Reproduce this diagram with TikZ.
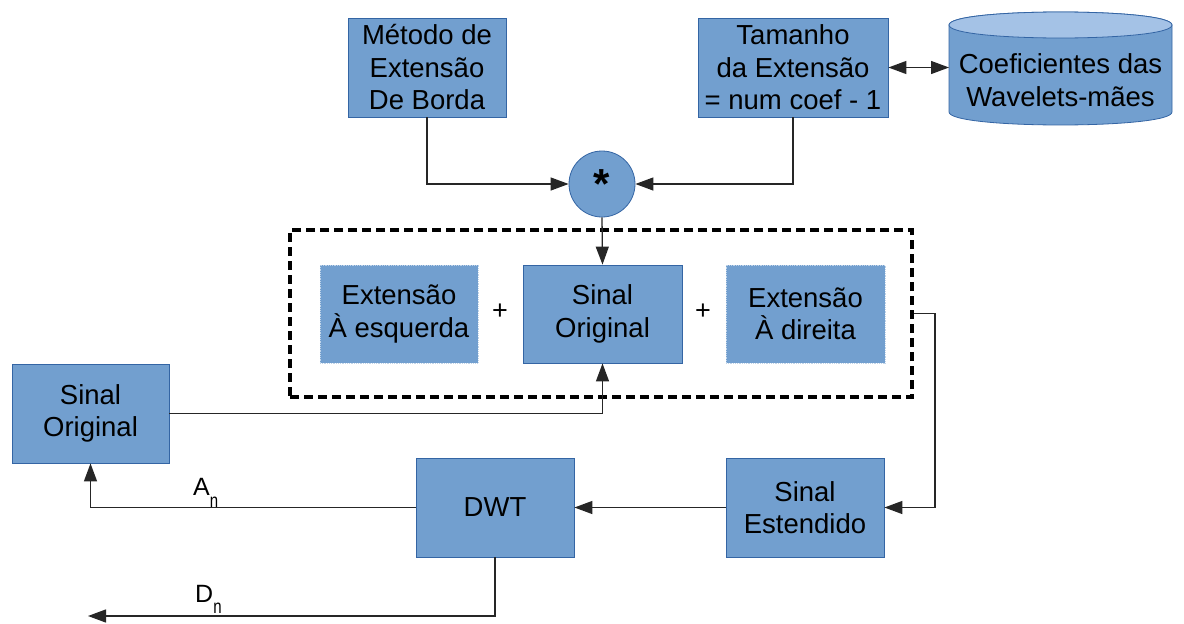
\documentclass[tikz,border=0pt]{standalone}
\usepackage{fontspec}
\setmainfont{Liberation Sans}
\usetikzlibrary{arrows.meta}
\definecolor{boxfill}{HTML}{729FCF}
\definecolor{boxline}{HTML}{3465A4}
\definecolor{cyltop}{HTML}{A4C2E6}
\begin{document}
\begin{tikzpicture}[x=1pt,y=-1pt,
  blk/.style={rectangle, fill=boxfill, draw=boxline, line width=0.8pt, align=center, inner sep=0pt,
    font=\fontsize{27.5}{32.5}\selectfont, text=black},
  extblk/.style={blk, draw=boxfill!45!white, densely dotted},
  conn/.style={line width=1.3pt, draw=black!85},
  arr/.style={conn, -{Triangle[length=18pt,width=13pt]}},
  darr/.style={conn, {Triangle[length=18pt,width=13pt]}-{Triangle[length=18pt,width=13pt]}},
  lbl/.style={font=\fontsize{25}{25}\selectfont, inner sep=0pt, anchor=base west},
]
\useasboundingbox[fill=white] (0,0) rectangle (1184,624);

% top blocks
\node[blk, minimum width=158pt, minimum height=99pt] (metodo) at (427,67.5) {Método de\\Extensão\\De Borda};
\node[blk, minimum width=190pt, minimum height=99pt] (tam) at (793,67.5) {Tamanho\\da Extensão\\= num coef - 1};

% cylinder
\path[fill=boxfill, draw=boxline, line width=0.8pt]
  (949,25) -- (949,112) .. controls (949,129.33) and (1172,129.33) .. (1172,112)
  -- (1172,25) .. controls (1172,7.67) and (949,7.67) .. (949,25) -- cycle;
\path[fill=cyltop, draw=boxline, line width=0.8pt]
  (949,25) .. controls (949,7.67) and (1172,7.67) .. (1172,25)
  .. controls (1172,42.33) and (949,42.33) .. (949,25) -- cycle;
\node[align=center, inner sep=0pt, font=\fontsize{27.5}{32.5}\selectfont] (cyl) at (1060.5,80) {Coeficientes das\\Wavelets-mães};
\coordinate (cylW) at (949,67.5);

% operator circle
\node[circle, fill=boxfill, draw=boxline, line width=0.8pt, minimum size=66pt, inner sep=0pt,
  font=\fontsize{42}{42}\selectfont\bfseries] (star) at (602,184) {*};

% dashed group
\node[draw=black, line width=3.5pt, dash pattern=on 9pt off 5pt, minimum width=622pt, minimum height=167pt, inner sep=0pt] (grp) at (601,313.5) {};
\node[extblk, minimum width=158pt, minimum height=98pt] (extL) at (399,314) {Extensão\\À esquerda};
\node[blk, minimum width=159pt, minimum height=98pt] (sig) at (602.5,314) {Sinal\\Original};
\node[extblk, minimum width=159pt, minimum height=98pt] (extR) at (805.5,314) {Extensão\\À direita};
\node[font=\fontsize{27}{27}\selectfont, inner sep=0pt] (plus1) at (500,312) {+};
\node[font=\fontsize{27}{27}\selectfont, inner sep=0pt] (plus2) at (703,312) {+};

% lower blocks
\node[blk, minimum width=157pt, minimum height=99pt] (sol) at (90.5,413.5) {Sinal\\Original};
\node[blk, minimum width=158pt, minimum height=99pt] (dwt) at (495,507.5) {DWT};
\node[blk, minimum width=158pt, minimum height=99pt] (est) at (805,507.5) {Sinal\\Estendido};

\coordinate (bend) at (935,313.5);
\coordinate (dn) at (88,616);

% connectors
\draw[arr] (metodo.south) |- (star.west);
\draw[arr] (tam.south) |- (star.east);
\draw[arr] (star.south) -- (sig.north);
\draw[darr] (tam.east) -- (cylW);
\draw[arr] (grp.east) -- (bend) |- (est.east);
\draw[arr] (sol.east) -| (sig.south);
\draw[arr] (est.west) -- (dwt.east);
\draw[arr] (dwt.west) -| (sol.south);
\draw[arr] (dwt.south) |- (dn);

% labels
\node[lbl] (an) at (193,495) {A\raisebox{-12pt}{\scalebox{1}[1.3]{\fontsize{15}{15}\selectfont n}}};
\node[lbl] (dnl) at (195,602) {D\raisebox{-11pt}{\scalebox{1}[1.3]{\fontsize{15}{15}\selectfont n}}};
\end{tikzpicture}
\end{document}
